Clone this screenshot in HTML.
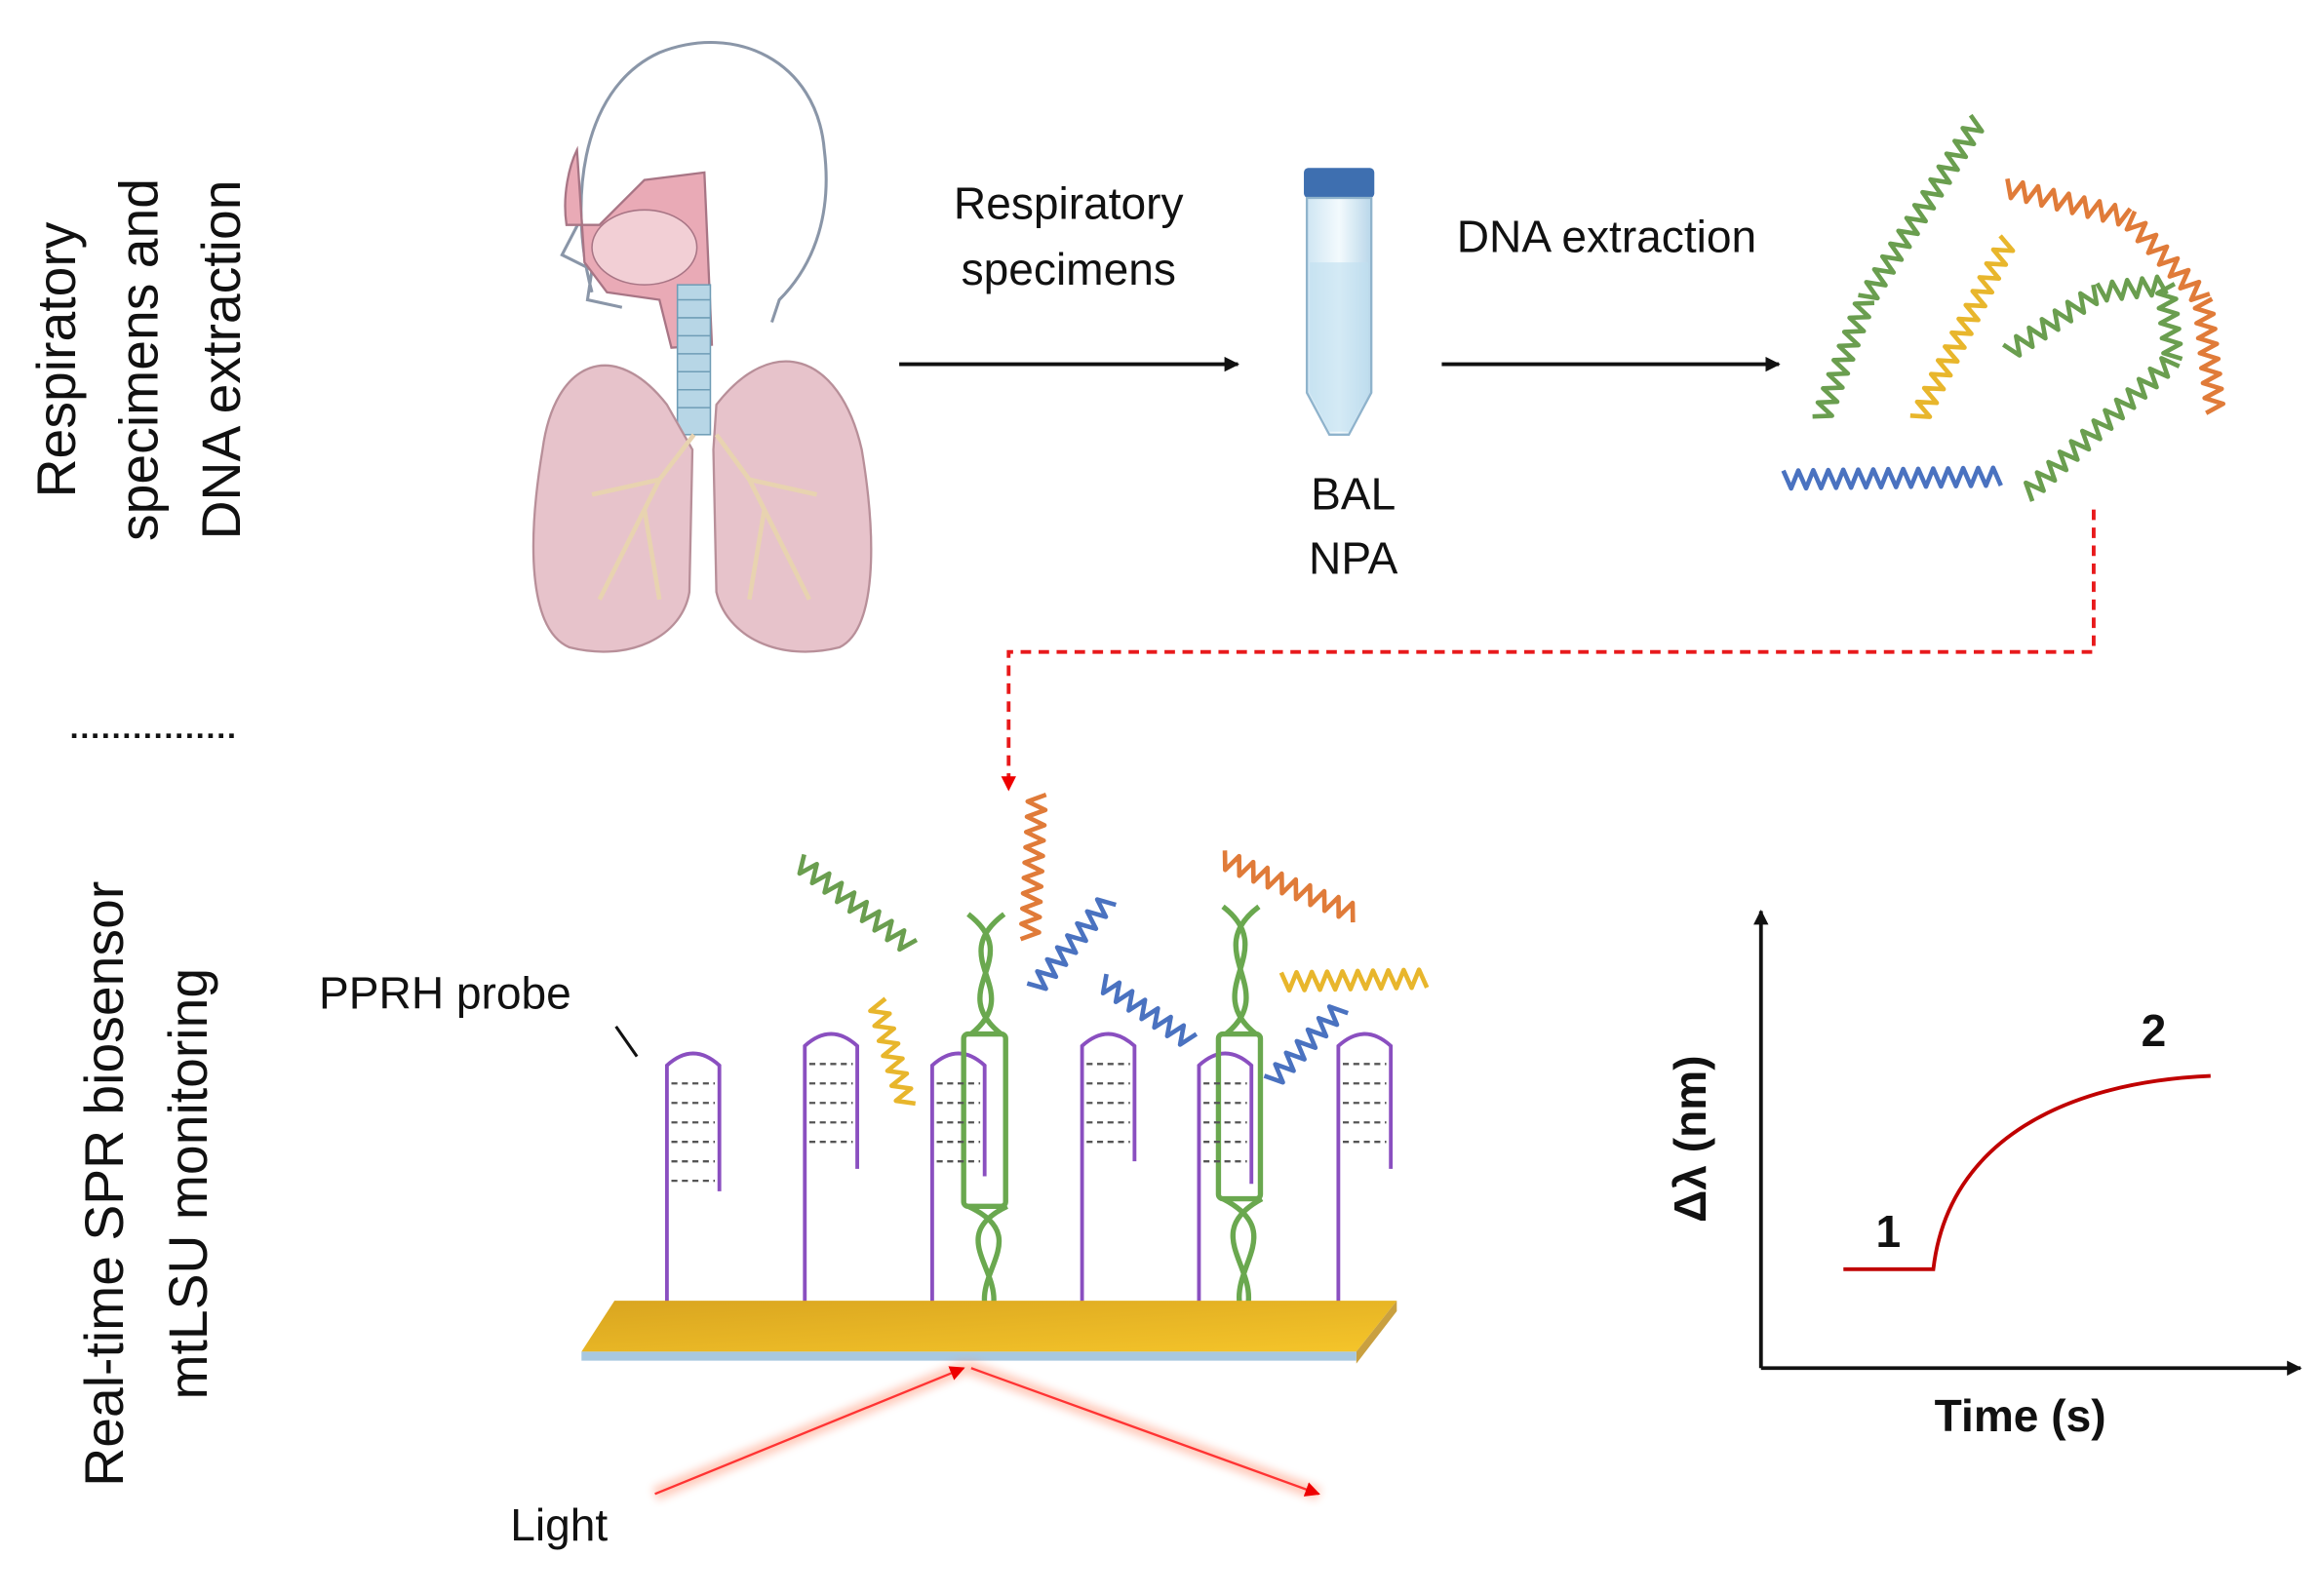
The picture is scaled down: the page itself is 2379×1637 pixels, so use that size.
<!DOCTYPE html>
<html><head><meta charset="utf-8"><style>
html,body{margin:0;padding:0;background:#fff;}
svg{display:block;}
text{font-family:"Liberation Sans",Arial,sans-serif;fill:#111;}
</style></head><body>
<svg id="s" width="2379" height="1637" viewBox="0 0 1548 1065" xmlns="http://www.w3.org/2000/svg">
<defs>
<marker id="ah" markerWidth="10" markerHeight="10" refX="9" refY="5" orient="auto" markerUnits="userSpaceOnUse"><path d="M0,0 L10,5 L0,10 z" fill="#111"/></marker>
<marker id="ahr" markerWidth="10" markerHeight="10" refX="9" refY="5" orient="auto" markerUnits="userSpaceOnUse"><path d="M0,0 L10,5 L0,10 z" fill="#e00"/></marker>
<linearGradient id="gold" x1="0" y1="0" x2="1" y2="1"><stop offset="0" stop-color="#d9a520"/><stop offset="1" stop-color="#f5c52a"/></linearGradient>
<linearGradient id="tube" x1="0" x2="1"><stop offset="0" stop-color="#cfe6f3"/><stop offset="0.5" stop-color="#f3fafd"/><stop offset="1" stop-color="#b9d7ea"/></linearGradient>
<filter id="glow"><feGaussianBlur stdDeviation="3"/></filter>
</defs>

<g transform="translate(95,240) rotate(-90)" font-size="36" text-anchor="middle">
<text x="0" y="-45">Respiratory</text>
<text x="0" y="10">specimens and</text>
<text x="0" y="65">DNA extraction</text>
</g>
<line x1="48" y1="491" x2="158" y2="491" stroke="#111" stroke-width="3" stroke-dasharray="3,4"/>
<g transform="translate(100,790) rotate(-90)" font-size="36" text-anchor="middle">
<text x="0" y="-18">Real-time SPR biosensor</text>
<text x="0" y="38">mtLSU monitoring</text>
</g>

<path d="M395,195 C380,140 385,60 440,35 C490,15 545,40 550,100 C555,140 545,175 520,200 L515,215 M388,145 L375,170 L395,180 L392,200 L415,205" fill="none" stroke="#8a96a8" stroke-width="2"/>
<path d="M385,100 C380,110 375,130 378,150 L400,150 L430,120 L470,115 L475,230 L448,232 L440,200 L405,195 L390,175 Z" fill="#e9aab6" stroke="#a87585" stroke-width="1.5"/>
<ellipse cx="430" cy="165" rx="35" ry="25" fill="#f2cfd5" stroke="#a87585"/>
<rect x="452" y="190" width="22" height="100" fill="#b7d6e6" stroke="#6f9db6"/>
<g stroke="#6f9db6" stroke-width="1">
<line x1="452" y1="200" x2="474" y2="200"/><line x1="452" y1="212" x2="474" y2="212"/><line x1="452" y1="224" x2="474" y2="224"/><line x1="452" y1="236" x2="474" y2="236"/><line x1="452" y1="248" x2="474" y2="248"/><line x1="452" y1="260" x2="474" y2="260"/><line x1="452" y1="272" x2="474" y2="272"/></g>
<path d="M445,270 C410,225 370,240 362,300 C352,360 352,420 380,432 C420,442 455,425 460,395 L462,300 Z" fill="#e7c3cb" stroke="#b88f99" stroke-width="1.5"/>
<path d="M478,270 C515,222 560,235 575,300 C585,360 585,420 560,432 C520,442 485,425 478,395 L476,300 Z" fill="#e7c3cb" stroke="#b88f99" stroke-width="1.5"/>
<g stroke="#e8d3b0" stroke-width="3" fill="none">
<path d="M463,290 L440,320 L420,360 L400,400 M440,320 L395,330 M430,340 L440,400 M478,290 L500,320 L520,360 L540,400 M500,320 L545,330 M510,340 L500,400"/></g>

<line x1="600" y1="243" x2="826" y2="243" stroke="#111" stroke-width="2.5" marker-end="url(#ah)"/>
<text x="713" y="146" font-size="30" text-anchor="middle">Respiratory</text>
<text x="713" y="190" font-size="30" text-anchor="middle">specimens</text>
<line x1="962" y1="243" x2="1187" y2="243" stroke="#111" stroke-width="2.5" marker-end="url(#ah)"/>
<text x="1072" y="168" font-size="30" text-anchor="middle">DNA extraction</text>
<rect x="870" y="112" width="47" height="20" rx="3" fill="#3e6fb0"/>
<path d="M872,132 L915,132 L915,262 L900,290 L887,290 L872,262 Z" fill="url(#tube)" stroke="#8fb3cc" stroke-width="1.5"/>
<path d="M874,175 L913,175 L913,262 L900,288 L887,288 L874,262 Z" fill="#bfdff0" opacity="0.6"/>
<text x="903" y="340" font-size="30" text-anchor="middle">BAL</text>
<text x="903" y="383" font-size="30" text-anchor="middle">NPA</text>

<path d="M1397,340 L1397,435 L673,435 L673,527" fill="none" stroke="#e8191b" stroke-width="2.5" stroke-dasharray="7,5" marker-end="url(#ahr)"/>

<g id="dna"></g>

<g id="probes" fill="none" stroke="#8a4fc0" stroke-width="2.5"></g>
<g fill="none" stroke="#6aa84f" stroke-width="3.5">
<rect x="643" y="690" width="28" height="115" rx="3"/>
<rect x="813" y="690" width="28" height="110" rx="3"/>
<path d="M646,610 C685,640 630,660 668,690 M670,610 C630,640 685,660 648,690"/>
<path d="M816,605 C855,635 800,660 838,690 M840,605 C800,635 855,660 818,690"/>
<path d="M646,805 C700,830 625,860 675,895 M672,805 C620,830 695,860 645,895"/>
<path d="M816,800 C870,828 795,858 845,895 M842,800 C790,828 865,858 815,895"/>
</g>
<path d="M410,868 L932,868 L905,902 L388,902 Z" fill="url(#gold)"/>
<path d="M932,868 L932,875 L905,910 L905,902 Z" fill="#c9a040"/>
<path d="M388,902 L905,902 L905,908 L388,908 Z" fill="#a8c8e0"/>

<g stroke="#ff7b55" stroke-width="9" opacity="0.4" filter="url(#glow)"><line x1="437" y1="997" x2="645" y2="912"/><line x1="645" y1="912" x2="880" y2="997"/></g>
<line x1="437" y1="997" x2="643" y2="913" stroke="#f33" stroke-width="1.5" marker-end="url(#ahr)"/>
<line x1="648" y1="913" x2="880" y2="997" stroke="#f33" stroke-width="1.5" marker-end="url(#ahr)"/>
<text x="373" y="1028" font-size="30" text-anchor="middle">Light</text>
<text x="297" y="673" font-size="30" text-anchor="middle">PPRH probe</text>
<line x1="411" y1="685" x2="425" y2="705" stroke="#111" stroke-width="2"/>

<line x1="1175" y1="913" x2="1175" y2="608" stroke="#111" stroke-width="2.5" marker-end="url(#ah)"/>
<line x1="1175" y1="913" x2="1535" y2="913" stroke="#111" stroke-width="2.5" marker-end="url(#ah)"/>
<path d="M1230,847 L1290,847 C1300,760 1380,722 1475,718" fill="none" stroke="#c00000" stroke-width="2.5"/>
<text x="1260" y="832" font-size="30" font-weight="bold" text-anchor="middle">1</text>
<text x="1437" y="698" font-size="30" font-weight="bold" text-anchor="middle">2</text>
<text x="1348" y="955" font-size="30" font-weight="bold" text-anchor="middle">Time (s)</text>
<text transform="translate(1138,760) rotate(-90)" font-size="30" font-weight="bold" text-anchor="middle">Δλ (nm)</text>
</svg>
<script>
var NS="http://www.w3.org/2000/svg";
function helix(x1,y1,x2,y2,col,amp){
 var g=document.getElementById('dna');
 var dx=x2-x1,dy=y2-y1,L=Math.hypot(dx,dy),ux=dx/L,uy=dy/L,nx=-uy,ny=ux;
 var n=Math.floor(L/5),d="";
 for(var i=0;i<=n;i++){var t=i*L/n;var s=(i%2?1:-1)*amp;
  d+=(i?"L":"M")+(x1+ux*t+nx*s).toFixed(1)+","+(y1+uy*t+ny*s).toFixed(1);}
 var p=document.createElementNS(NS,"path");p.setAttribute("d",d);p.setAttribute("fill","none");
 p.setAttribute("stroke",col);p.setAttribute("stroke-width","3");p.setAttribute("stroke-linejoin","round");g.appendChild(p);
}
var G="#6a9e4f",O="#e07b39",Y="#e8b62c",B="#4a72c0";
helix(1215,280,1245,200,G,6);helix(1245,200,1320,80,G,6);
helix(1338,125,1420,145,O,6);helix(1420,145,1470,200,O,6);helix(1470,200,1478,275,O,6);
helix(1280,280,1340,160,Y,6);
helix(1340,235,1400,195,G,6);helix(1400,195,1445,190,G,6);helix(1445,190,1450,240,G,6);helix(1450,240,1352,330,G,6);
helix(1190,320,1335,318,B,6);
helix(533,575,608,632,G,6);
helix(687,627,692,530,O,6);
helix(690,660,740,600,B,6);
helix(585,668,605,738,Y,6);
helix(735,655,795,695,B,6);
helix(815,573,905,610,O,6);
helix(855,655,952,653,Y,6);
helix(848,722,895,672,B,6);
var pg=document.getElementById('probes');
[[445,480,703,795,885],[537,572,690,780,880],[622,657,703,785,888],[722,757,690,775,870],[800,835,703,790,888],[893,928,690,780,880]].forEach(function(a){
 var p=document.createElementNS(NS,"path");
 p.setAttribute("d","M"+a[0]+","+a[4]+" L"+a[0]+","+(a[2]+8)+" Q"+((a[0]+a[1])/2)+","+(a[2]-8)+" "+a[1]+","+(a[2]+8)+" L"+a[1]+","+a[3]);
 pg.appendChild(p);
 for(var y=a[2]+20;y<a[3]-5;y+=13){var l=document.createElementNS(NS,"line");
  l.setAttribute("x1",a[0]+3);l.setAttribute("x2",a[1]-3);l.setAttribute("y1",y);l.setAttribute("y2",y);
  l.setAttribute("stroke","#555");l.setAttribute("stroke-width","1.5");l.setAttribute("stroke-dasharray","4,3");document.getElementById('s').appendChild(l);}
});
</script>
</body></html>
